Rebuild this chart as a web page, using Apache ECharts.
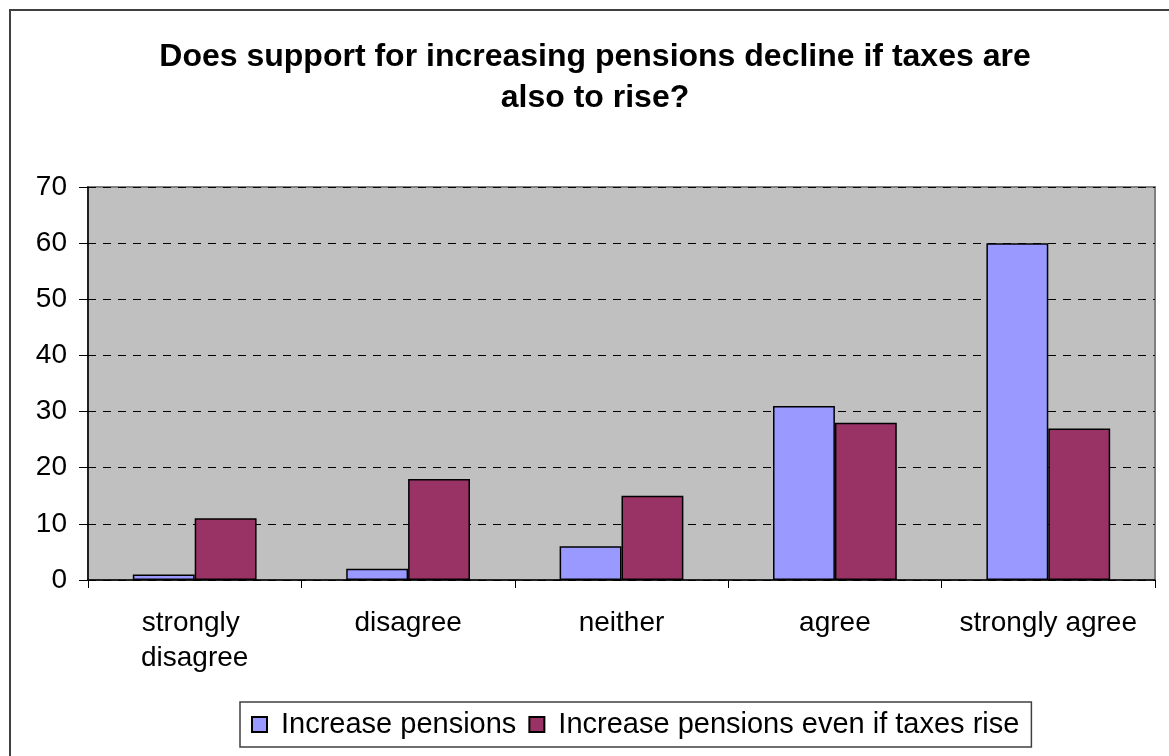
<!DOCTYPE html>
<html>
<head>
<meta charset="utf-8">
<title>Pension support</title>
<script src="https://cdn.jsdelivr.net/npm/echarts@6/dist/echarts.min.js"></script>
<style>
  html, body { margin: 0; padding: 0; background: #ffffff; }
  #chart { width: 1169px; height: 756px; }
</style>
</head>
<body>
<div id="chart"></div>
<script>
// Survey responses (percent) by level of agreement
const categories = ['strongly disagree', 'disagree', 'neither', 'agree', 'strongly agree'];
const increasePensions = [1, 2, 6, 31, 60];
const increaseEvenIfTaxesRise = [11, 18, 15, 28, 27];
const seriesNames = ['Increase pensions', 'Increase pensions even if taxes rise'];
const yTicks = { min: 0, max: 70, interval: 10 };

const FONT = '"Liberation Sans", Arial, sans-serif';

const chart = echarts.init(document.getElementById('chart'), null, { renderer: 'canvas' });

chart.setOption({
  animation: false,
  backgroundColor: '#ffffff',
  textStyle: { fontFamily: FONT, color: '#000000' },
  title: {
    text: 'Does support for increasing pensions decline if taxes are\nalso to rise?',
    left: 590,
    top: 32,
    textAlign: 'center',
    textStyle: {
      fontFamily: FONT,
      fontSize: 32,
      fontWeight: 'bold',
      lineHeight: 41,
      color: '#000000'
    }
  },
  graphic: [{
    type: 'rect',
    shape: { x: 10, y: 10, width: 1200, height: 800 },
    style: { fill: 'none', stroke: '#404040', lineWidth: 2 },
    silent: true,
    z: -1
  }],
  legend: {
    left: 240,
    top: 702,
    orient: 'horizontal',
    itemWidth: 15,
    itemHeight: 15,
    itemGap: 12,
    icon: 'rect',
    padding: [6, 12, 6, 11],
    borderColor: '#404040',
    borderWidth: 1.5,
    textStyle: {
      fontFamily: FONT,
      fontSize: 29,
      lineHeight: 33,
      color: '#000000',
      padding: [0, 0, 0, 9]
    },
    data: seriesNames
  },
  grid: {
    left: 88,
    right: 14,
    top: 187,
    bottom: 176,
    show: true,
    backgroundColor: '#C0C0C0',
    borderColor: '#808080',
    borderWidth: 2
  },
  xAxis: {
    type: 'category',
    data: categories,
    axisLine: { show: true, lineStyle: { color: '#000000', width: 1.5 } },
    axisTick: { show: true, length: 8, lineStyle: { color: '#000000', width: 1 } },
    axisLabel: {
      interval: 0,
      margin: 26,
      fontFamily: FONT,
      fontSize: 28,
      lineHeight: 35,
      color: '#000000',
      width: 200,
      overflow: 'break'
    },
    splitLine: { show: false }
  },
  yAxis: {
    type: 'value',
    min: yTicks.min,
    max: yTicks.max,
    interval: yTicks.interval,
    axisLine: { show: true, lineStyle: { color: '#000000', width: 1.5 } },
    axisTick: { show: true, length: 9, lineStyle: { color: '#000000', width: 1 } },
    axisLabel: {
      margin: 21,
      fontFamily: FONT,
      fontSize: 28,
      color: '#000000'
    },
    splitLine: {
      show: true,
      lineStyle: { color: '#000000', width: 1, type: [8, 7] }
    }
  },
  series: [
    {
      name: seriesNames[0],
      type: 'bar',
      data: increasePensions,
      barWidth: '29%',
      barGap: '0%',
      itemStyle: { color: '#9999FF', borderColor: '#000000', borderWidth: 1.5 }
    },
    {
      name: seriesNames[1],
      type: 'bar',
      data: increaseEvenIfTaxesRise,
      barWidth: '29%',
      barGap: '0%',
      itemStyle: { color: '#993366', borderColor: '#000000', borderWidth: 1.5 }
    }
  ]
});
</script>
</body>
</html>
